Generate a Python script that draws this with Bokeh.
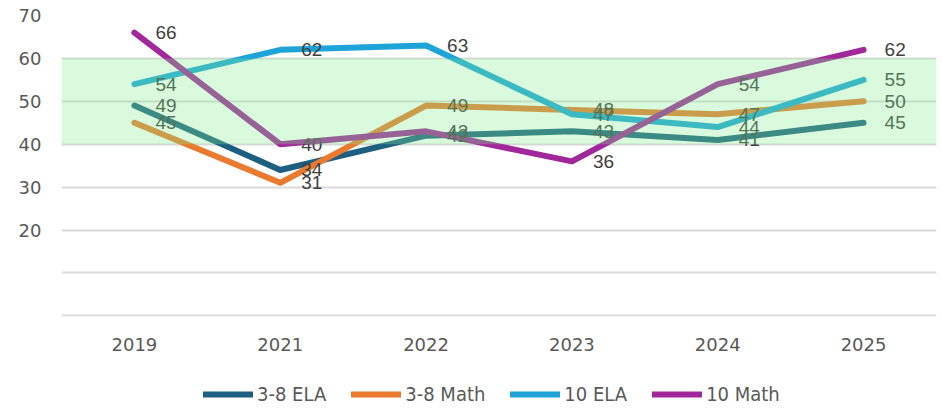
from bokeh.plotting import figure
from bokeh.layouts import column
from bokeh.models import (FactorRange, Range1d, Legend, LegendItem, BoxAnnotation,
                          FixedTicker)
from bokeh.core.properties import value
from bokeh.embed import file_html
from bokeh.resources import INLINE

# ---- data ----
years = ["2019", "2021", "2022", "2023", "2024", "2025"]
ela_38 = [49, 34, 42, 43, 41, 45]
math_38 = [45, 31, 49, 48, 47, 50]
ela_10 = [54, 62, 63, 47, 44, 55]
math_10 = [66, 40, 43, 36, 54, 62]
series_names = ["3-8 ELA", "3-8 Math", "10 ELA", "10 Math"]
series_values = [ela_38, math_38, ela_10, math_10]
colors = ["#1d5f80", "#e97a2e", "#1ea4d9", "#a1289b"]
y_ticks = [0, 10, 20, 30, 40, 50, 60, 70]
band_low, band_high = 40, 60

p = figure(frame_width=875, frame_height=301,
           x_range=FactorRange(*years, range_padding=0),
           y_range=Range1d(-0.15, 70),
           output_backend="svg", toolbar_location=None,
           min_border_left=61, min_border_right=4, min_border_top=15,
           min_border_bottom=54)
p.outline_line_color = None
p.background_fill_color = "white"
p.border_fill_color = "white"

p.xgrid.grid_line_color = None
p.ygrid.grid_line_color = "#d9d9d9"
p.ygrid.grid_line_width = 2
p.yaxis.ticker = FixedTicker(ticks=y_ticks)
# the lowest two tick labels are hidden behind a panel in the reference
p.yaxis.major_label_overrides = {0: "", 10: ""}

for ax in (p.xaxis, p.yaxis):
    ax.axis_line_color = None
    ax.major_tick_line_color = None
    ax.minor_tick_line_color = None
    ax.major_tick_out = 0
    ax.major_tick_in = 0
    ax.minor_tick_out = 0
    ax.minor_tick_in = 0
    ax.major_label_text_font = "DejaVu Sans"
    ax.major_label_text_font_size = "18px"
    ax.major_label_text_color = "#595959"
p.yaxis.major_label_standoff = 20
p.xaxis.major_label_standoff = 21

for name, vals, col in zip(series_names, series_values, colors):
    p.line(x=years, y=vals, line_color=col, line_width=6,
           line_cap="round", line_join="round")

for vals in series_values:
    p.text(x=years, y=vals, text=[str(v) for v in vals], x_offset=21,
           text_baseline="middle", text_align="left",
           text_font=value("Liberation Sans"), text_font_size="19px",
           text_color="#404040")

band = BoxAnnotation(bottom=band_low, top=band_high, fill_color="#80f08d",
                     fill_alpha=0.3, line_color=None)
p.add_layout(band)

# ---- legend strip below the chart (its lines sit outside the visible range) ----
lg = figure(width=934, height=38,
            x_range=FactorRange(*years, range_padding=0),
            y_range=Range1d(1000, 1001),
            output_backend="svg", toolbar_location=None,
            min_border_left=0, min_border_right=0, min_border_top=0,
            min_border_bottom=0)
lg.axis.visible = False
lg.grid.visible = False
lg.outline_line_color = None

legend_renderers = []
for vals, col in zip(series_values, colors):
    r = lg.line(x=years, y=vals, line_color=col, line_width=6,
                line_cap="round", line_join="round")
    legend_renderers.append(r)

legend = Legend(items=[LegendItem(label=n, renderers=[r])
                       for n, r in zip(series_names, legend_renderers)],
                orientation="horizontal", location=(142, 2),
                glyph_width=50, glyph_height=20, label_standoff=4, spacing=25,
                padding=0, margin=0, border_line_color=None,
                background_fill_alpha=0,
                label_text_font="DejaVu Sans Condensed",
                label_text_font_size="20px", label_text_color="#595959")
lg.add_layout(legend, "center")

open("out.html", "w").write(file_html(column(p, lg, spacing=0), INLINE))
